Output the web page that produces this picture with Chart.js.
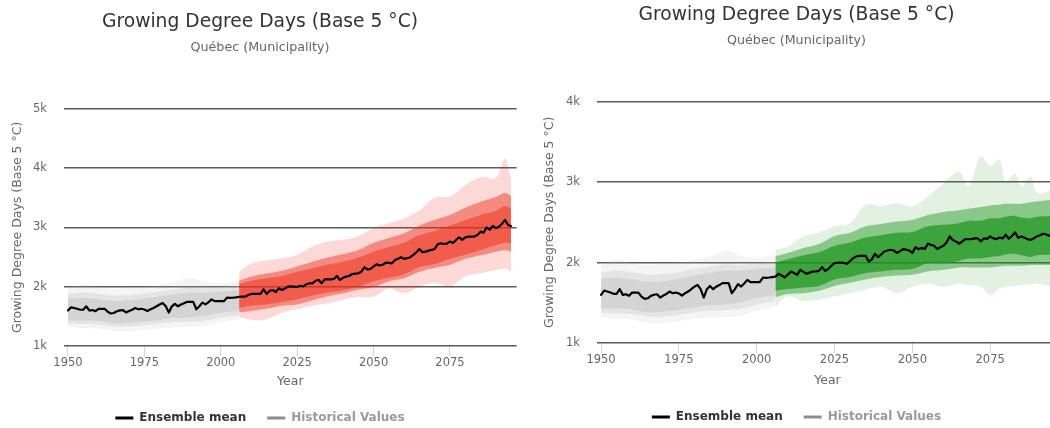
<!DOCTYPE html>
<html><head><meta charset="utf-8">
<script src="https://cdn.jsdelivr.net/npm/chart.js@4.4.1/dist/chart.umd.min.js"></script>
<style>
html,body{margin:0;padding:0;background:#fff;overflow:hidden;width:1050px;height:428px;position:relative;}
#c1{position:absolute;left:0;top:0;}
#c2{position:absolute;left:525px;top:-7px;}
</style></head><body>
<canvas id="c1" width="520" height="434"></canvas>
<canvas id="c2" width="543" height="440"></canvas>
<script>
// ---------- text ----------
const TITLE = 'Growing Degree Days (Base 5 °C)';
const SUBTITLE = 'Québec (Municipality)';
const Y_TITLE = 'Growing Degree Days (Base 5 °C)';
const X_TITLE = 'Year';
const LEGEND_LABELS = ['Ensemble mean', 'Historical Values'];

// ---------- axes ----------
const X_MIN = 1948.7, X_MAX = 2096.8;
const X_TICKS = [1950, 1975, 2000, 2025, 2050, 2075];
const Y_TICKS_LEFT = [1000, 2000, 3000, 4000, 5000];
const Y_TICKS_RIGHT = [1000, 2000, 3000, 4000];

// ---------- ensemble mean (yearly) ----------
const HIST_START = 1950;
const histMean = [
  1598,1652,1640,1627,1611,1611,1669,1598,1606,1586,
  1627,1627,1627,1577,1548,1556,1586,1600,1606,1565,
  1590,1610,1640,1619,1627,1615,1590,1619,1640,1669,
  1700,1723,1669,1565,1669,1710,1669,1700,1720,1744,
  1744,1744,1619,1669,1731,1702,1740,1785,1756,1756,
  1756,1756,1814,1810,1814,1820];
const FUT_START = 2006;
const redMean = [
  1830,1832,1832,1860,1877,1877,1877,1880,1956,1877,
  1930,1944,1910,1972,1944,1970,2000,2006,2000,1994,
  2016,2006,2040,2057,2057,2100,2113,2057,2124,2124,
  2124,2130,2180,2113,2150,2169,2180,2214,2220,2225,
  2253,2327,2290,2300,2340,2377,2358,2370,2405,2400,
  2394,2450,2470,2496,2468,2480,2496,2535,2580,2636,
  2580,2590,2608,2620,2636,2715,2732,2720,2725,2760,
  2735,2788,2833,2790,2830,2844,2844,2844,2870,2928,
  2910,3000,2960,3023,2985,3010,3057,3125,3040,3023];
const greenMean = [
  1826,1860,1840,1814,1850,1889,1870,1847,1910,1885,
  1860,1875,1889,1890,1897,1943,1897,1920,1960,1993,
  1998,2000,1995,1985,2020,2055,2075,2084,2084,2084,
  2013,2040,2109,2067,2100,2138,2150,2159,2150,2120,
  2140,2167,2160,2150,2120,2192,2167,2180,2170,2234,
  2220,2209,2167,2190,2209,2250,2325,2280,2263,2234,
  2260,2292,2290,2292,2300,2300,2263,2300,2295,2325,
  2300,2292,2310,2300,2346,2296,2330,2375,2310,2325,
  2310,2290,2283,2300,2325,2340,2358,2350,2334,2330];

// ---------- historical spread (gray) ----------
const grayYears   = [1950,1955,1960,1965,1970,1975,1980,1985,1990,1995,2000,2006];
const grayOuterHi = [1990,2030,1990,1960,1990,2000,2030,2080,2150,2080,2060,2100];
const grayOuterLo = [1330,1300,1290,1250,1250,1270,1300,1310,1320,1340,1400,1450];
const grayMidHi   = [1880,1900,1880,1850,1860,1880,1920,1950,1980,1970,1990,2010];
const grayMidLo   = [1380,1370,1360,1330,1330,1350,1380,1400,1410,1430,1480,1520];
const grayCoreHi  = [1800,1810,1790,1760,1770,1800,1840,1870,1900,1900,1920,1940];
const grayCoreLo  = [1430,1430,1420,1380,1390,1410,1440,1470,1480,1510,1560,1600];

// ---------- projected spread, left (red) ----------
const redYears   = [2006,2010,2015,2020,2025,2030,2035,2040,2045,2050,2055,2060,2065,2070,2075,2080,2085,2090,2093,2095];
const redOuterHi = [2250,2390,2440,2480,2535,2675,2760,2790,2850,2990,3070,3150,3290,3500,3520,3710,3850,3830,4160,3800];
const redOuterLo = [1494,1440,1450,1560,1620,1680,1720,1780,1830,1830,1970,1890,2000,2060,2000,2170,2225,2280,2300,2250];
const redMidHi   = [2100,2170,2220,2270,2340,2420,2490,2550,2620,2740,2820,2900,3030,3130,3210,3330,3430,3510,3580,3530];
const redMidLo   = [1570,1590,1630,1680,1700,1770,1840,1890,1950,1990,2090,2140,2250,2320,2370,2470,2530,2590,2620,2590];
const redCoreHi  = [2040,2100,2140,2180,2250,2310,2370,2420,2490,2590,2670,2740,2870,2940,3030,3120,3210,3280,3360,3310];
const redCoreLo  = [1640,1680,1700,1740,1790,1850,1900,1940,2000,2090,2150,2210,2330,2380,2470,2540,2620,2700,2740,2730];

// ---------- projected spread, right (green) ----------
const greenYears   = [2006,2010,2015,2020,2025,2030,2035,2040,2045,2050,2055,2060,2065,2068,2072,2075,2078,2080,2083,2085,2088,2090,2095];
const greenOuterHi = [2160,2200,2325,2370,2450,2490,2720,2700,2740,2700,2820,2990,3130,2950,3320,3200,3280,2990,3110,2950,3070,2870,2900];
const greenOuterLo = [1450,1580,1520,1540,1580,1620,1660,1700,1620,1700,1740,1700,1740,1720,1700,1600,1680,1700,1710,1720,1730,1740,1700];
const greenMidHi   = [2080,2120,2180,2230,2330,2370,2450,2480,2510,2530,2590,2630,2650,2670,2690,2710,2720,2730,2730,2730,2750,2760,2780];
const greenMidLo   = [1570,1610,1620,1650,1710,1750,1790,1820,1840,1850,1890,1910,1940,1940,1940,1940,1950,1960,1960,1960,1970,1970,1970];
const greenCoreHi  = [2000,2040,2090,2130,2210,2250,2310,2340,2370,2380,2450,2470,2490,2520,2520,2550,2550,2570,2580,2560,2550,2570,2580];
const greenCoreLo  = [1650,1670,1690,1710,1790,1820,1870,1890,1910,1920,1990,1990,2020,2050,2050,2070,2080,2100,2110,2090,2070,2090,2100];

// ---------- helpers ----------
const FONT = 'DejaVu Sans';
function pts(xs, ys){ return ys.map((v,i)=>({x:xs[i], y:v})); }
function yearly(start, vals){ return vals.map((v,i)=>({x:start+i, y:v})); }
function band(xs, hi, lo, color){
  return [
    {data:pts(xs,hi), borderWidth:0, pointRadius:0, fill:'+1', backgroundColor:color, tension:0.35, xAxisID:'x', yAxisID:'y'},
    {data:pts(xs,lo), borderWidth:0, pointRadius:0, fill:false, backgroundColor:'rgba(0,0,0,0)', tension:0.35, xAxisID:'x', yAxisID:'y'}
  ];
}
function meanSet(fut){
  return {data: yearly(HIST_START, histMean).concat(yearly(FUT_START, fut)),
          borderColor:'#000', borderWidth:2.2, pointRadius:0, fill:false, tension:0,
          borderJoinStyle:'round', borderCapStyle:'round', xAxisID:'x', yAxisID:'y'};
}
function grayBands(){
  return [].concat(
    band(grayYears, grayCoreHi, grayCoreLo, 'rgba(175,175,175,0.30)'),
    band(grayYears, grayMidHi, grayMidLo, 'rgba(180,180,180,0.25)'),
    band(grayYears, grayOuterHi, grayOuterLo, 'rgba(190,190,190,0.17)'));
}

function makeChart(id, cfg){
  return new Chart(document.getElementById(id), {
    type:'line',
    data:{datasets: cfg.datasets},
    options:{
      responsive:false, animation:false, devicePixelRatio:1,
      layout:{padding:0},
      plugins:{
        title:{display:true, text:TITLE, color:'#333', font:{family:FONT, size:18.7, weight:'normal'}, padding:{top:10.6, bottom:5}},
        subtitle:{display:true, text:SUBTITLE, color:'#666', font:{family:FONT, size:12.7, weight:'normal'}, padding:{top:2, bottom:53.4}},
        legend:{position:'bottom', onClick:null,
          labels:{boxWidth:18, boxHeight:3, padding:21, color:'#333', font:{family:FONT, size:12, weight:'bold'},
            generateLabels: ()=>[
              {text:LEGEND_LABELS[0], fillStyle:'#000', strokeStyle:'#000', lineWidth:0, fontColor:'#333', hidden:false, datasetIndex:0},
              {text:LEGEND_LABELS[1], fillStyle:'#8c8c8c', strokeStyle:'#8c8c8c', lineWidth:0, fontColor:'#999', hidden:false, datasetIndex:1}
            ]}},
        tooltip:{enabled:false}
      },
      scales:{
        x:{type:'linear', min:X_MIN, max:X_MAX,
           afterBuildTicks:s=>{ s.ticks = X_TICKS.map(v=>({value:v})); },
           afterFit:s=>{ s.height = cfg.xh; },
           grid:{drawOnChartArea:false, drawTicks:true, tickLength:10, color:'#ccd6eb'},
           border:{display:false},
           ticks:{color:'#666', font:{family:FONT, size:11.5}, padding:0, maxRotation:0, autoSkip:false, callback:v=>String(v)},
           title:{display:true, text:X_TITLE, color:'#666', font:{family:FONT, size:12.5}, padding:{top:0, bottom:1.5}}},
        y:{type:'linear', position:'left', min:1000, max:cfg.ymax,
           afterBuildTicks:s=>{ s.ticks = cfg.yticks.map(v=>({value:v})); },
           afterFit:s=>{ s.width = cfg.yw; },
           grid:{color:'#5a5a5a', lineWidth:1.5, drawTicks:false},
           border:{display:false},
           ticks:{color:'#666', font:{family:FONT, size:11.5}, padding:17, callback:v=>(v/1000)+'k'},
           title:{display:true, text:Y_TITLE, color:'#666', font:{family:FONT, size:12.5}, padding:{top:cfg.ytp, bottom:0}}},
        yRight:{type:'linear', axis:'y', position:'right', display:true,
           grid:{display:false, drawOnChartArea:false}, border:{display:false}, ticks:{display:false},
           afterFit:s=>{ s.width = cfg.rw; }}
      }
    }
  });
}

makeChart('c1', {
  datasets:[meanSet(redMean)].concat(
    band(redYears, redCoreHi, redCoreLo, 'rgba(238,45,25,0.50)'),
    band(redYears, redMidHi, redMidLo, 'rgba(238,45,25,0.45)'),
    band(redYears, redOuterHi, redOuterLo, 'rgba(238,45,25,0.18)'),
    grayBands()),
  ymax:5000, yticks:Y_TICKS_LEFT, yw:64, rw:3.4, xh:45, ytp:10
});
makeChart('c2', {
  datasets:[meanSet(greenMean)].concat(
    band(greenYears, greenCoreHi, greenCoreLo, 'rgba(30,150,30,0.70)'),
    band(greenYears, greenMidHi, greenMidLo, 'rgba(30,150,30,0.45)'),
    band(greenYears, greenOuterHi, greenOuterLo, 'rgba(30,150,30,0.13)'),
    grayBands()),
  ymax:4000, yticks:Y_TICKS_RIGHT, yw:72, rw:10, xh:47, ytp:17.5
});
</script>
</body></html>
